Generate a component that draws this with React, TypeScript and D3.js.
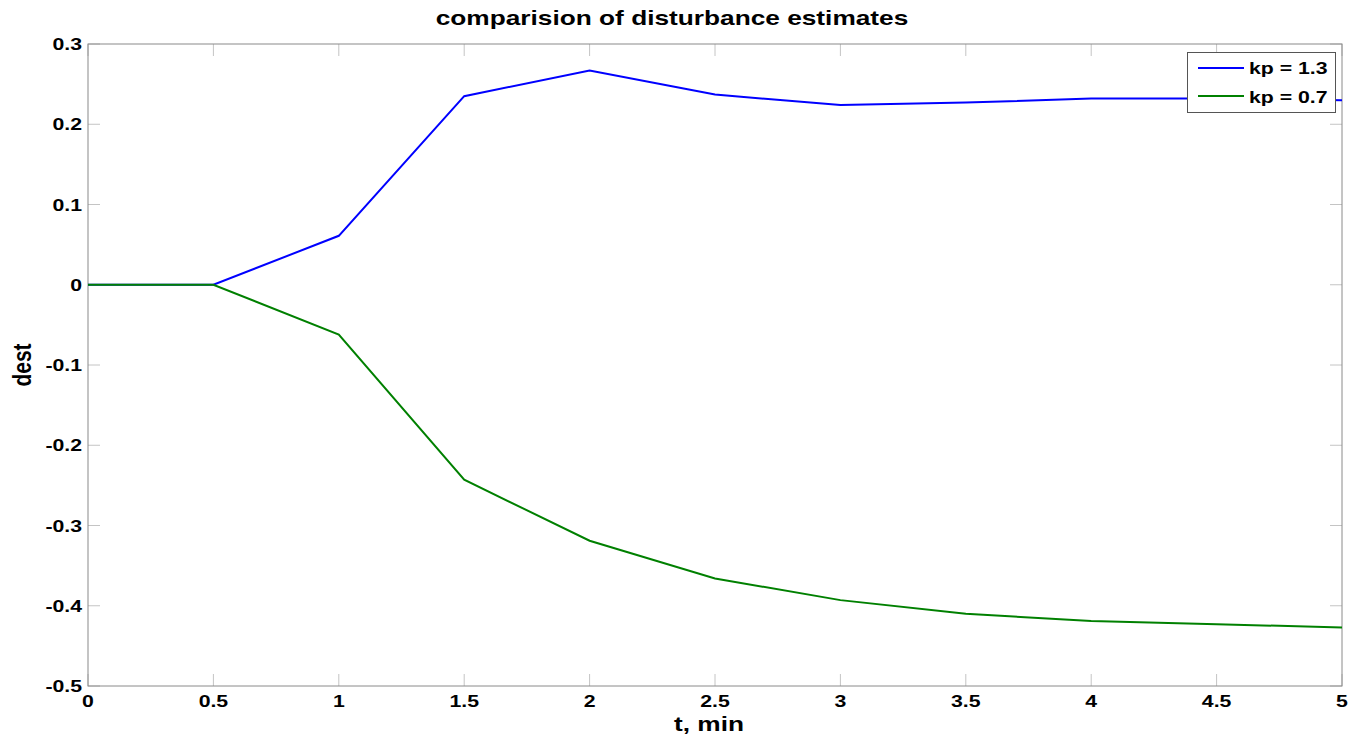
import React from "react";
import * as d3 from "d3";

const tValues = [0, 0.5, 1, 1.5, 2, 2.5, 3, 3.5, 4, 4.5, 5];
const kp13 = [0, 0, 0.061, 0.235, 0.267, 0.237, 0.224, 0.227, 0.232, 0.232, 0.23];
const kp07 = [0, 0, -0.062, -0.243, -0.319, -0.366, -0.393, -0.41, -0.419, -0.423, -0.427];
const xTicks = [0, 0.5, 1, 1.5, 2, 2.5, 3, 3.5, 4, 4.5, 5];
const yTicks = [-0.5, -0.4, -0.3, -0.2, -0.1, 0, 0.1, 0.2, 0.3];
const seriesNames = ["kp = 1.3", "kp = 0.7"];
const seriesColors = ["#0000ff", "#008000"];

const SX = 1.25;

function WideText(props: {
  x: number; y: number; size: number; anchor?: string; children: React.ReactNode;
}) {
  const { x, y, size, anchor = "start", children } = props;
  return (
    <text
      transform={`translate(${x},${y}) scale(${SX},1)`}
      textAnchor={anchor}
      fontSize={size}
      fontWeight="bold"
      fill="#000"
    >
      {children}
    </text>
  );
}

export default function App() {
  const W = 1348, H = 739;
  const left = 88, right = 1342, top = 44, bottom = 686;
  const x = d3.scaleLinear().domain([0, 5]).range([left, right]);
  const y = d3.scaleLinear().domain([-0.5, 0.3]).range([bottom, top]);
  const line = d3.line<number>().x((_, i) => x(tValues[i])).y((d) => y(d));
  const series = [kp13, kp07];
  const font = "'Liberation Sans', Arial, sans-serif";
  const fmt = (v: number) => (Math.abs(v) < 1e-9 ? "0" : String(+v.toFixed(1)));
  return (
    <svg width={W} height={H} style={{ position: "absolute", left: 0, top: 0, background: "#fff" }} fontFamily={font}>
      <rect x={0} y={0} width={W} height={H} fill="#fff" />
      {xTicks.map((t) => (
        <g key={"xt" + t}>
          <line x1={x(t)} x2={x(t)} y1={bottom} y2={bottom - 12} stroke="#c4c4c4" />
          <line x1={x(t)} x2={x(t)} y1={top} y2={top + 12} stroke="#c4c4c4" />
          <WideText x={x(t)} y={bottom + 21} size={17} anchor="middle">{fmt(t)}</WideText>
        </g>
      ))}
      {yTicks.map((v) => (
        <g key={"yt" + v}>
          <line x1={left} x2={left + 12} y1={y(v)} y2={y(v)} stroke="#c4c4c4" />
          <line x1={right} x2={right - 12} y1={y(v)} y2={y(v)} stroke="#c4c4c4" />
          <WideText x={left - 6} y={y(v) + 6} size={17} anchor="end">{fmt(v)}</WideText>
        </g>
      ))}
      <rect x={left} y={top} width={right - left} height={bottom - top} fill="none" stroke="#8a8a8a" strokeWidth={1} />
      {series.map((s, i) => (
        <path key={"s" + i} d={line(s) || ""} fill="none" stroke={seriesColors[i]} strokeWidth={2} />
      ))}
      <WideText x={(left + right) / 2 - 43} y={25} size={21} anchor="middle">comparision of disturbance estimates</WideText>
      <WideText x={(left + right) / 2 - 6} y={731} size={21} anchor="middle">t, min</WideText>
      <text
        transform={`translate(31, ${365}) rotate(-90) scale(1,${SX})`}
        textAnchor="middle"
        fontSize={21}
        fontWeight="bold"
      >
        dest
      </text>
      <g>
        <rect x={1187.5} y={52.5} width={148} height={60} fill="#fff" stroke="#555" strokeWidth={1} />
        {seriesNames.map((n, i) => (
          <g key={"lg" + i}>
            <line x1={1198} x2={1244} y1={68 + i * 28} y2={68 + i * 28} stroke={seriesColors[i]} strokeWidth={2} />
            <WideText x={1249} y={74 + i * 29} size={17}>{n}</WideText>
          </g>
        ))}
      </g>
    </svg>
  );
}
